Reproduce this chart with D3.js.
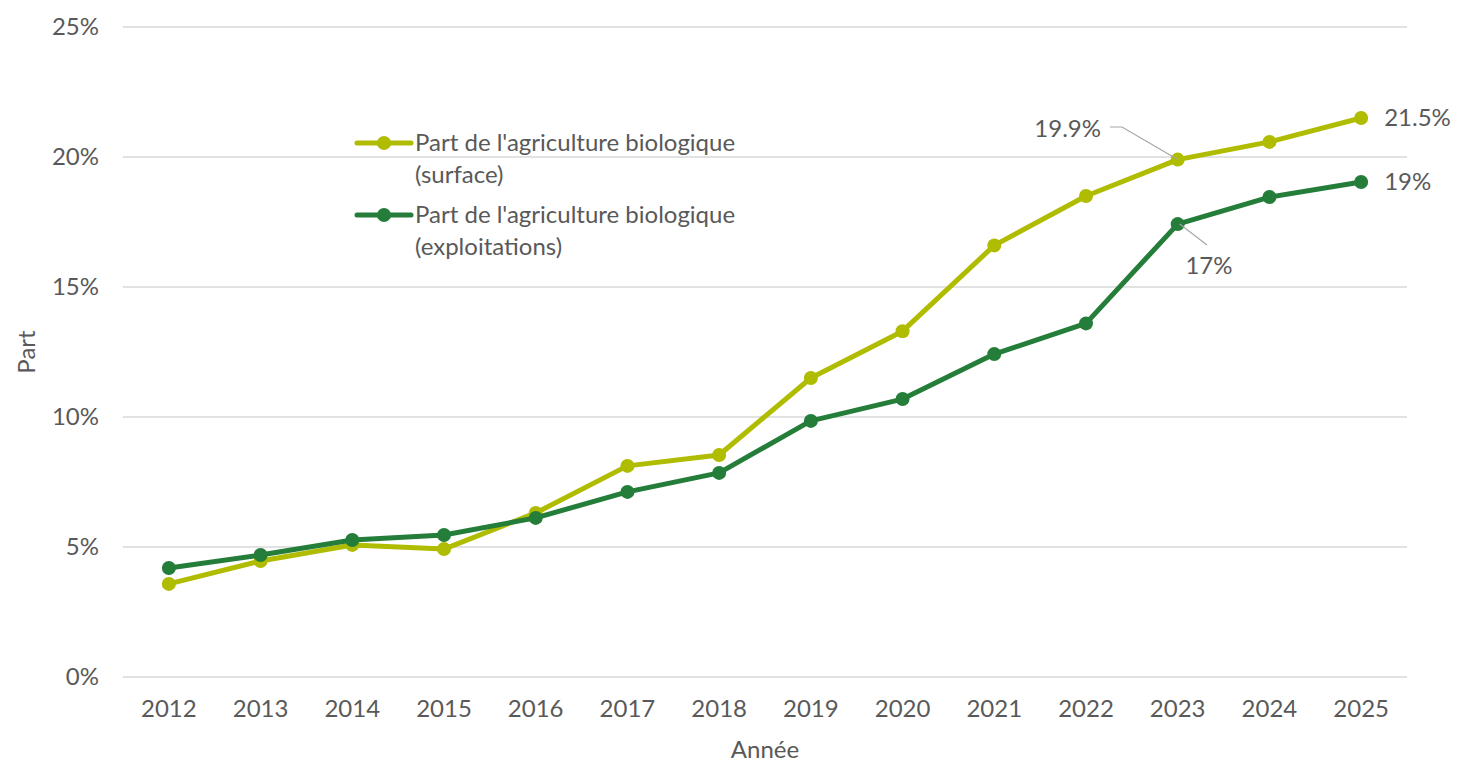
<!DOCTYPE html>
<html>
<head>
<meta charset="utf-8">
<title>Part de l'agriculture biologique</title>
<script src="https://cdn.jsdelivr.net/npm/d3@7"></script>
<style>
  body { margin: 0; background: #fff; }
  svg text { font-family: Lato, "Open Sans", sans-serif; fill: #595959; font-size: 24px; }
</style>
</head>
<body>
<svg id="chart"></svg>
<script>
const WIDTH = 1460;
const HEIGHT = 763;

// data
const years = ["2012","2013","2014","2015","2016","2017","2018","2019","2020","2021","2022","2023","2024","2025"];
const surface = [3.58, 4.46, 5.08, 4.92, 6.31, 8.12, 8.54, 11.5, 13.3, 16.6, 18.5, 19.9, 20.58, 21.5];
const exploitations = [4.19, 4.69, 5.27, 5.46, 6.12, 7.12, 7.85, 9.85, 10.69, 12.42, 13.6, 17.42, 18.46, 19.04];
const yTicks = [0, 5, 10, 15, 20, 25];
const seriesNames = ["Part de l'agriculture biologique|(surface)", "Part de l'agriculture biologique|(exploitations)"];
const colors = ["#afbc00", "#257d3a"];

const margin = {top: 27, right: 53, bottom: 86, left: 123};

const svg = d3.select("#chart")
    .attr("width", WIDTH)
    .attr("height", HEIGHT);

const x = d3.scaleBand()
    .domain(years)
    .range([margin.left, WIDTH - margin.right]);

const y = d3.scaleLinear()
    .domain([0, 25])
    .range([HEIGHT - margin.bottom, margin.top]);

// gridlines
svg.append("g")
    .selectAll("line")
    .data(yTicks)
    .enter()
    .append("line")
    .attr("x1", margin.left)
    .attr("x2", WIDTH - margin.right)
    .attr("y1", d => y(d))
    .attr("y2", d => y(d))
    .attr("stroke", "#d9d9d9")
    .attr("stroke-width", 1.5);

// y tick labels
svg.append("g")
    .selectAll("text")
    .data(yTicks)
    .enter()
    .append("text")
    .attr("x", 99)
    .attr("y", d => y(d))
    .attr("dy", "0.35em")
    .attr("text-anchor", "end")
    .text(d => d + "%");

// x tick labels
svg.append("g")
    .selectAll("text")
    .data(years)
    .enter()
    .append("text")
    .attr("x", d => x(d) + x.bandwidth() / 2)
    .attr("y", 709)
    .attr("dy", "0.35em")
    .attr("text-anchor", "middle")
    .text(d => d);

// axis titles
svg.append("text")
    .attr("x", 765)
    .attr("y", 750)
    .attr("dy", "0.35em")
    .attr("text-anchor", "middle")
    .text("Année");

svg.append("text")
    .attr("transform", "translate(27," + 352 + ") rotate(-90)")
    .attr("dy", "0.35em")
    .attr("text-anchor", "middle")
    .text("Part");

const line = d3.line()
    .x((d, i) => x(years[i]) + x.bandwidth() / 2)
    .y(d => y(d));

const allSeries = [surface, exploitations];

allSeries.forEach(function(vals, k) {
    svg.append("path")
        .datum(vals)
        .attr("d", line)
        .attr("fill", "none")
        .attr("stroke", colors[k])
        .attr("stroke-width", 5)
        .attr("stroke-linejoin", "round");

    svg.append("g")
        .selectAll("circle")
        .data(vals)
        .enter()
        .append("circle")
        .attr("cx", (d, i) => x(years[i]) + x.bandwidth() / 2)
        .attr("cy", d => y(d))
        .attr("r", 7)
        .attr("fill", colors[k]);
});

// leader lines for the 2023 labels
const cx2023 = x("2023") + x.bandwidth() / 2;
svg.append("polyline")
    .attr("points", [[1110, 127], [1122, 127], [cx2023, y(surface[11])]].join(" "))
    .attr("fill", "none")
    .attr("stroke", "#a6a6a6")
    .attr("stroke-width", 1.2);
svg.append("line")
    .attr("x1", cx2023 + 2)
    .attr("y1", y(exploitations[11]))
    .attr("x2", 1207)
    .attr("y2", 245)
    .attr("stroke", "#a6a6a6")
    .attr("stroke-width", 1.2);

// data labels
svg.append("text")
    .attr("x", 1101)
    .attr("y", 129)
    .attr("dy", "0.35em")
    .attr("text-anchor", "end")
    .text("19.9%");
svg.append("text")
    .attr("x", 1209)
    .attr("y", 266)
    .attr("dy", "0.35em")
    .attr("text-anchor", "middle")
    .text("17%");

const cxLast = x("2025") + x.bandwidth() / 2;
svg.append("text")
    .attr("x", cxLast + 23)
    .attr("y", y(surface[13]))
    .attr("dy", "0.35em")
    .text("21.5%");
svg.append("text")
    .attr("x", cxLast + 23)
    .attr("y", y(exploitations[13]))
    .attr("dy", "0.35em")
    .text("19%");

// legend
const legendY = [143, 215];
seriesNames.forEach(function(name, k) {
    const g = svg.append("g").attr("transform", "translate(357," + legendY[k] + ")");
    g.append("line")
        .attr("x1", 0).attr("x2", 54)
        .attr("y1", 0).attr("y2", 0)
        .attr("stroke", colors[k])
        .attr("stroke-width", 5)
        .attr("stroke-linecap", "round");
    g.append("circle")
        .attr("cx", 27).attr("cy", 0).attr("r", 7)
        .attr("fill", colors[k]);
    name.split("|").forEach(function(part, j) {
        g.append("text")
            .attr("x", 58)
            .attr("y", j * 32)
            .attr("dy", "0.35em")
            .text(part);
    });
});
</script>
</body>
</html>
